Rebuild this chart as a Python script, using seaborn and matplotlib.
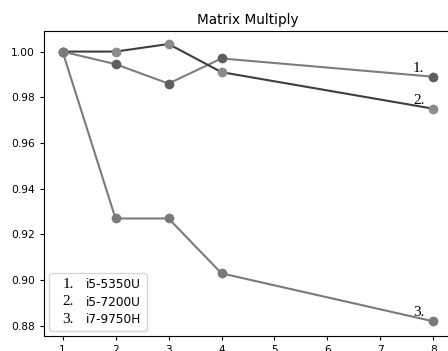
import matplotlib
matplotlib.use("Agg")
import matplotlib.pyplot as plt
import matplotlib.text as mtext
from matplotlib.legend_handler import HandlerBase
import seaborn as sns
import pandas as pd

x_vals = [1, 2, 3, 4, 8]
i5_5350u = [1.000, 0.9945, 0.986, 0.997, 0.989]
i5_7200u = [1.000, 1.000, 1.0033, 0.991, 0.975]
i7_9750h = [1.000, 0.927, 0.927, 0.903, 0.882]
series_names = ["i5-5350U", "i5-7200U", "i7-9750H"]
series_nums = ["1.", "2.", "3."]
x_ticks = [1, 2, 3, 4, 5, 6, 7, 8]
y_ticks = [0.88, 0.90, 0.92, 0.94, 0.96, 0.98, 1.00]

line_colors = ["#7d7d7d", "#3e3e3e", "#7a7a7a"]
marker_colors = ["#5e5e5e", "#8c8c8c", "#7a7a7a"]

fig = plt.figure(figsize=(4.48, 3.51), dpi=100)
ax = fig.add_axes([44 / 448, 15 / 351, 408 / 448, 305 / 351])

all_series = [i5_5350u, i5_7200u, i7_9750h]
for vals, lc, mc in zip(all_series, line_colors, marker_colors):
    df = pd.DataFrame({"x": x_vals, "y": vals})
    sns.lineplot(data=df, x="x", y="y", ax=ax, color=lc, linewidth=1.5,
                 marker="o", markersize=7, markerfacecolor=mc,
                 markeredgecolor=mc, markeredgewidth=0)

for vals, num in zip(all_series, series_nums):
    ax.annotate(num, xy=(x_vals[-1], vals[-1]), xytext=(-6.5, 3.6),
                textcoords="offset points", ha="right", va="baseline",
                family="Liberation Serif", fontsize=11)

ax.set_xlim(0.65, 8.35)
ax.set_ylim(0.8756, 1.009)
ax.set_xticks(x_ticks)
ax.set_yticks(y_ticks)
ax.set_yticklabels([f"{v:.2f}" for v in y_ticks])
ax.tick_params(labelsize=7.7, length=3, pad=3.4)
ax.set_xlabel("")
ax.set_ylabel("")
ax.set_title("Matrix Multiply", fontsize=9.8, pad=5)


class NumHandle:
    def __init__(self, s):
        self.s = s


class NumHandler(HandlerBase):
    def create_artists(self, legend, orig_handle, xdescent, ydescent,
                       width, height, fontsize, trans):
        t = mtext.Text(-xdescent + width / 2, -ydescent + height / 2 - 0.5,
                       orig_handle.s, ha="center", va="center",
                       family="Liberation Serif", fontsize=11,
                       transform=trans)
        return [t]


handles = [NumHandle(s) for s in series_nums]
ax.legend(handles=handles, labels=series_names, loc="lower left",
          handler_map={NumHandle: NumHandler()}, fontsize=8.7,
          handlelength=2.3, handletextpad=0.35, labelspacing=0.35,
          borderaxespad=0.45)

fig.savefig("out.png", dpi=100)
